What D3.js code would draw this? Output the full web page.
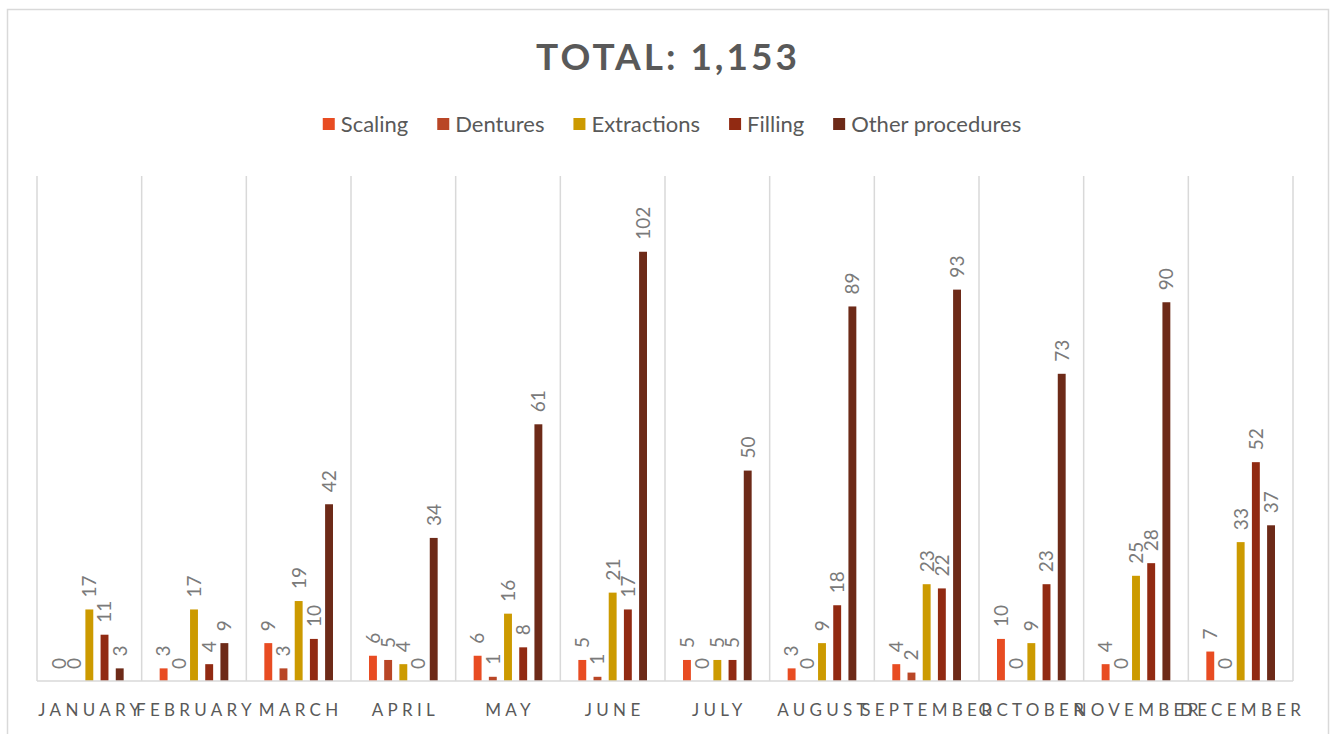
<!DOCTYPE html>
<html>
<head>
<meta charset="utf-8">
<script src="https://cdn.jsdelivr.net/npm/d3@7"></script>
<style>
  body { margin: 0; background: #fff; }
  text { font-family: Lato, "Open Sans", sans-serif; }
</style>
</head>
<body>
<div id="chart"></div>
<script>
var months = ["JANUARY", "FEBRUARY", "MARCH", "APRIL", "MAY", "JUNE", "JULY", "AUGUST", "SEPTEMBER", "OCTOBER", "NOVEMBER", "DECEMBER"];
var seriesNames = ["Scaling", "Dentures", "Extractions", "Filling", "Other procedures"];
var colors = ["#E84C22", "#B94626", "#CC9A00", "#912A12", "#6D2A18"];

var scaling = [0, 3, 9, 6, 6, 5, 5, 3, 4, 10, 4, 7];
var dentures = [0, 0, 3, 5, 1, 1, 0, 0, 2, 0, 0, 0];
var extractions = [17, 17, 19, 4, 16, 21, 5, 9, 23, 9, 25, 33];
var filling = [11, 4, 10, 0, 8, 17, 5, 18, 22, 23, 28, 52];
var other = [3, 9, 42, 34, 61, 102, 50, 89, 93, 73, 90, 37];

var allSeries = [scaling, dentures, extractions, filling, other];
var total = d3.sum(allSeries, function(s) { return d3.sum(s); });

var svgWidth = 1332;
var svgHeight = 734;

var svg = d3.select("#chart")
  .append("svg")
  .attr("width", svgWidth)
  .attr("height", svgHeight);

svg.append("rect")
  .attr("width", svgWidth)
  .attr("height", svgHeight)
  .attr("fill", "#fff");

// chart frame (bottom edge runs off the picture)
svg.append("rect")
  .attr("x", 7.5)
  .attr("y", 9.5)
  .attr("width", 1321)
  .attr("height", 760)
  .attr("fill", "none")
  .attr("stroke", "#d9d9d9")
  .attr("stroke-width", 1.5);

var plot = { left: 37, right: 1293, top: 176, bottom: 681 };

var x = d3.scaleBand()
  .domain(months)
  .range([plot.left, plot.right])
  .padding(0);

var xInner = d3.scaleBand()
  .domain(d3.range(seriesNames.length))
  .range([x.bandwidth() * 0.172, x.bandwidth() * 0.828])
  .paddingInner(0.48)
  .paddingOuter(0);

var y = d3.scaleLinear()
  .domain([0, 120])
  .range([plot.bottom, plot.top]);

// vertical gridlines at category boundaries
var bounds = months.map(function(m) { return x(m); }).concat([plot.right]);
svg.append("g")
  .selectAll("line")
  .data(bounds)
  .enter()
  .append("line")
  .attr("x1", function(d) { return d; })
  .attr("x2", function(d) { return d; })
  .attr("y1", plot.top)
  .attr("y2", plot.bottom)
  .attr("stroke", "#d9d9d9")
  .attr("stroke-width", 1.5);

// bars
var rows = [];
months.forEach(function(m, i) {
  allSeries.forEach(function(s, j) {
    rows.push({ month: m, series: j, value: s[i] });
  });
});

svg.append("g")
  .selectAll("rect")
  .data(rows)
  .enter()
  .append("rect")
  .attr("x", function(d) { return x(d.month) + xInner(d.series); })
  .attr("y", function(d) { return y(d.value); })
  .attr("width", xInner.bandwidth())
  .attr("height", function(d) { return y(0) - y(d.value); })
  .attr("fill", function(d) { return colors[d.series]; });

// data labels, rotated
svg.append("g")
  .selectAll("text")
  .data(rows)
  .enter()
  .append("text")
  .attr("transform", function(d) {
    var cx = x(d.month) + xInner(d.series) + xInner.bandwidth() / 2;
    return "translate(" + cx + "," + (y(d.value) - 12) + ") rotate(-90)";
  })
  .attr("dy", "0.36em")
  .attr("text-anchor", "start")
  .attr("font-size", 19)
  .attr("fill", "#7a7a7a")
  .text(function(d) { return d.value; });

// axis line
svg.append("line")
  .attr("x1", plot.left)
  .attr("x2", plot.right)
  .attr("y1", plot.bottom)
  .attr("y2", plot.bottom)
  .attr("stroke", "#d9d9d9")
  .attr("stroke-width", 1.5);

// category labels
svg.append("g")
  .selectAll("text")
  .data(months)
  .enter()
  .append("text")
  .attr("x", function(d) { return x(d) + x.bandwidth() / 2 + 2; })
  .attr("y", 716)
  .attr("text-anchor", "middle")
  .attr("font-size", 17)
  .attr("letter-spacing", "4.3px")
  .attr("fill", "#595959")
  .text(function(d) { return d; });

// title
svg.append("text")
  .attr("x", 668)
  .attr("y", 70)
  .attr("text-anchor", "middle")
  .attr("font-size", 37)
  .attr("font-weight", "bold")
  .attr("letter-spacing", "3px")
  .attr("fill", "#595959")
  .text("TOTAL: " + d3.format(",")(total));

// legend
var legend = svg.append("g");
var lx = 0;
seriesNames.forEach(function(name, i) {
  var item = legend.append("g").attr("transform", "translate(" + lx + ",0)");
  item.append("rect")
    .attr("x", 0)
    .attr("y", -6)
    .attr("width", 12)
    .attr("height", 12)
    .attr("fill", colors[i]);
  var t = item.append("text")
    .attr("x", 18)
    .attr("dy", "0.35em")
    .attr("font-size", 22)
    .attr("fill", "#595959")
    .text(name);
  lx += 18 + t.node().getComputedTextLength() + 29;
});
lx -= 29;
legend.attr("transform", "translate(" + (672 - lx / 2) + ",124)");
</script>
</body>
</html>
